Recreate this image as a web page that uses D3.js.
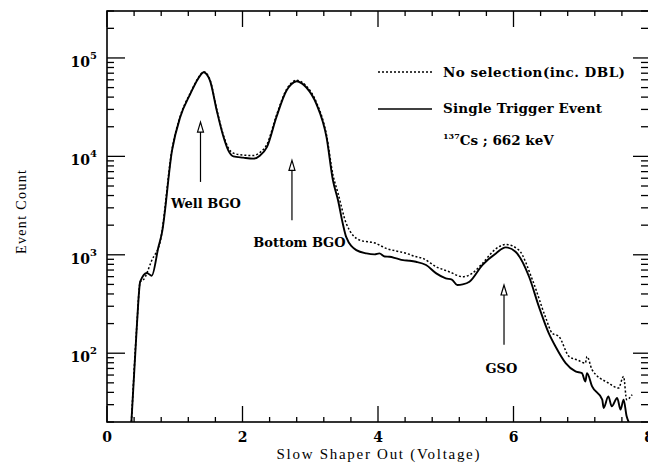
<!DOCTYPE html>
<html>
<head>
<meta charset="utf-8">
<script src="https://cdn.jsdelivr.net/npm/d3@7"></script>
<style>
  body { margin: 0; background: #fff; }
  svg { display: block; }
</style>
</head>
<body>
<div id="chart"></div>
<script>
// Single trigger events (solid line)
const voltSingle = [0.36, 0.44, 0.49, 0.59, 0.66, 0.76, 0.81, 0.96, 1.08, 1.23, 1.375, 1.424, 1.52, 1.62, 1.72, 1.79, 1.865,
  2.01, 2.16, 2.26, 2.36, 2.50, 2.65, 2.72, 2.80, 2.87, 2.94, 3.09, 3.24, 3.335, 3.41, 3.48, 3.53, 3.68, 3.83, 3.95, 4.02, 4.10, 4.17,
  4.27, 4.37, 4.47, 4.56, 4.71, 4.86, 5.00, 5.09, 5.17, 5.25, 5.35, 5.54, 5.74, 5.885, 6.03, 6.23, 6.375, 6.52, 6.62, 6.77,
  6.915, 7.01, 7.06, 7.085, 7.16, 7.31, 7.33, 7.40, 7.45, 7.53, 7.58, 7.625, 7.67, 7.70];
const countSingle = [20, 187, 533, 653, 613, 1205, 1660, 11500, 25000, 43200, 66200, 71500, 58900, 29200, 15700, 11500, 10000,
  9700, 9480, 10230, 12400, 25000, 46700, 54000, 57900, 55500, 50400, 34200, 15700, 5710, 3580, 2080, 1520, 1116, 1033, 1010, 1033, 960, 955,
  920, 883, 870, 849, 787, 648, 577, 560, 493, 500, 532, 787, 1033, 1189, 1072, 598, 297, 160, 117, 79.4,
  65.3, 62.8, 51.6, 62.8, 46.0, 33.7, 27.8, 36.4, 28.8, 35.1, 26.7, 33.7, 22.9, 20];

// No selection, including double hits (dotted line)
const voltAll = [0.36, 0.44, 0.49, 0.54, 0.66, 0.79, 0.96, 1.08, 1.23, 1.375, 1.424, 1.52, 1.62, 1.72, 1.79, 1.865,
  2.01, 2.16, 2.26, 2.36, 2.50, 2.65, 2.72, 2.80, 2.87, 2.94, 3.09, 3.24, 3.335, 3.41, 3.53, 3.73, 3.97, 4.12, 4.25, 4.42, 4.55, 4.66,
  4.86, 5.05, 5.25, 5.39, 5.54, 5.74, 5.885, 6.08, 6.28, 6.47, 6.57, 6.67, 6.82, 6.95, 7.06, 7.085, 7.16, 7.40, 7.55,
  7.625, 7.67, 7.75];
const countAll = [20, 190, 530, 560, 875, 1413, 11800, 25500, 44000, 67000, 72500, 60000, 30000, 16300, 12200, 10800,
  10300, 10200, 11000, 13200, 26000, 48000, 55500, 59500, 57000, 52000, 35500, 16500, 6500, 4220, 2095, 1409, 1306, 1161, 1100, 1033, 960, 920,
  755, 673, 598, 648, 817, 1150, 1274, 1116, 555, 235, 160, 148, 92.7, 85, 79.4, 92.7, 67.9, 49.8, 44.3,
  58, 33.7, 37.9];

const xTicksMajor = [0, 2, 4, 6, 8];
const yDecades = [2, 3, 4, 5];

// peak annotations
const peakNames = ["Well BGO", "Bottom BGO", "GSO"];
const peakVolt = [1.38, 2.73, 5.86];
const peakTip = [22300, 9100, 493];
const peakTail = [5500, 2250, 122];
const peakLabelVolt = [1.46, 2.84, 5.82];
const peakLabelCount = [2970, 1200, 63];

const width = 648, height = 463;
const plotL = 107, plotR = 649, plotT = 11, plotB = 422;

const svg = d3.select("#chart").append("svg")
  .attr("width", width)
  .attr("height", height);

const x = d3.scaleLinear().domain([0, 8]).range([plotL, plotR]);
const y = d3.scaleLog().domain([20, 3e5]).range([plotB, plotT]);

svg.append("clipPath").attr("id", "plot-clip")
  .append("rect")
  .attr("x", plotL).attr("y", plotT)
  .attr("width", plotR - plotL).attr("height", plotB - plotT);

// frame
svg.append("rect")
  .attr("x", plotL).attr("y", plotT)
  .attr("width", plotR - plotL).attr("height", plotB - plotT)
  .attr("fill", "none").attr("stroke", "#000").attr("stroke-width", 1.6);

// x ticks (bottom + top), minor every 0.4
const xMinor = d3.range(0, 8.001, 0.4).filter(v => Math.abs(v / 2 - Math.round(v / 2)) > 1e-6);
const tickG = svg.append("g").attr("stroke", "#000").attr("stroke-width", 1.3);
xTicksMajor.forEach(v => {
  tickG.append("line").attr("x1", x(v)).attr("x2", x(v)).attr("y1", plotB).attr("y2", plotB - 16);
  tickG.append("line").attr("x1", x(v)).attr("x2", x(v)).attr("y1", plotT).attr("y2", plotT + 16);
});
xMinor.forEach(v => {
  tickG.append("line").attr("x1", x(v)).attr("x2", x(v)).attr("y1", plotB).attr("y2", plotB - 5);
  tickG.append("line").attr("x1", x(v)).attr("x2", x(v)).attr("y1", plotT).attr("y2", plotT + 5);
});

// y ticks (left + right)
const yMinor = [];
[1, 2, 3, 4, 5].forEach(e => d3.range(2, 10).forEach(m => {
  const v = m * Math.pow(10, e);
  if (v >= 20 && v <= 3e5) yMinor.push(v);
}));
yDecades.forEach(e => {
  const v = Math.pow(10, e);
  tickG.append("line").attr("x1", plotL).attr("x2", plotL + 18).attr("y1", y(v)).attr("y2", y(v));
  tickG.append("line").attr("x1", plotR).attr("x2", plotR - 16).attr("y1", y(v)).attr("y2", y(v));
});
yMinor.forEach(v => {
  tickG.append("line").attr("x1", plotL).attr("x2", plotL + 7).attr("y1", y(v)).attr("y2", y(v));
  tickG.append("line").attr("x1", plotR).attr("x2", plotR - 8).attr("y1", y(v)).attr("y2", y(v));
});

// tick labels
const labelFont = "DejaVu Serif";
svg.append("g").selectAll("text")
  .data(xTicksMajor)
  .join("text")
  .attr("x", d => x(d))
  .attr("y", 442)
  .attr("text-anchor", "middle")
  .style("font-family", labelFont)
  .style("font-weight", "bold")
  .style("font-size", "14px")
  .text(d => d);

const yLab = svg.append("g").selectAll("text")
  .data(yDecades)
  .join("text")
  .attr("x", 97)
  .attr("y", d => y(Math.pow(10, d)) + 9)
  .attr("text-anchor", "end")
  .style("font-family", labelFont)
  .style("font-weight", "bold")
  .style("font-size", "14px");
yLab.append("tspan").text("10");
yLab.append("tspan").attr("dy", -8).style("font-size", "10px").text(d => d);

// axis titles
svg.append("text")
  .attr("x", 378)
  .attr("y", 459)
  .attr("text-anchor", "middle")
  .attr("textLength", 203)
  .style("font-family", "Liberation Serif")
  .style("font-size", "15px")
  .text("Slow Shaper Out (Voltage)");

svg.append("text")
  .attr("transform", "translate(26,212) rotate(-90)")
  .attr("text-anchor", "middle")
  .attr("textLength", 84)
  .style("font-family", "Liberation Serif")
  .style("font-size", "14px")
  .text("Event Count");

// curves
const line = d3.line()
  .x(d => x(d[0]))
  .y(d => y(d[1]))
  .curve(d3.curveMonotoneX);

const plot = svg.append("g").attr("clip-path", "url(#plot-clip)");

plot.append("path")
  .datum(d3.zip(voltAll, countAll))
  .attr("d", line)
  .attr("fill", "none")
  .attr("stroke", "#000")
  .attr("stroke-width", 1.5)
  .attr("stroke-dasharray", "2,2");

plot.append("path")
  .datum(d3.zip(voltSingle, countSingle))
  .attr("d", line)
  .attr("fill", "none")
  .attr("stroke", "#000")
  .attr("stroke-width", 1.9);

// arrows and peak labels
const ann = svg.append("g");
peakNames.forEach((name, i) => {
  const ax = x(peakVolt[i]);
  const yt = y(peakTip[i]);
  const yb = y(peakTail[i]);
  ann.append("line")
    .attr("x1", ax).attr("x2", ax)
    .attr("y1", yb).attr("y2", yt + 9)
    .attr("stroke", "#000").attr("stroke-width", 1.2);
  ann.append("path")
    .attr("d", `M${ax},${yt} L${ax - 3},${yt + 10} L${ax + 3},${yt + 10} Z`)
    .attr("fill", "#fff").attr("stroke", "#000").attr("stroke-width", 1.2);
  ann.append("text")
    .attr("x", x(peakLabelVolt[i]))
    .attr("y", y(peakLabelCount[i]))
    .attr("text-anchor", "middle")
    .style("font-family", labelFont)
    .style("font-weight", "bold")
    .style("font-size", "13px")
    .text(name);
});

// legend
const leg = svg.append("g");
leg.append("line").attr("x1", 378).attr("x2", 432).attr("y1", 72).attr("y2", 72)
  .attr("stroke", "#000").attr("stroke-width", 1.3).attr("stroke-dasharray", "2,2");
leg.append("line").attr("x1", 378).attr("x2", 432).attr("y1", 109).attr("y2", 109)
  .attr("stroke", "#000").attr("stroke-width", 1.6);
leg.append("text").attr("x", 443).attr("y", 77)
  .attr("textLength", 182)
  .style("font-family", labelFont).style("font-weight", "bold").style("font-size", "13.5px")
  .text("No selection(inc. DBL)");
leg.append("text").attr("x", 443).attr("y", 113)
  .attr("textLength", 159)
  .style("font-family", labelFont).style("font-weight", "bold").style("font-size", "13.5px")
  .text("Single Trigger Event");
const iso = leg.append("text").attr("x", 443).attr("y", 145)
  .style("font-family", labelFont).style("font-weight", "bold").style("font-size", "13.5px");
iso.append("tspan").attr("dy", -6).style("font-size", "8px").text("137");
iso.append("tspan").attr("dy", 6).text("Cs ; 662 keV");
</script>
</body>
</html>
